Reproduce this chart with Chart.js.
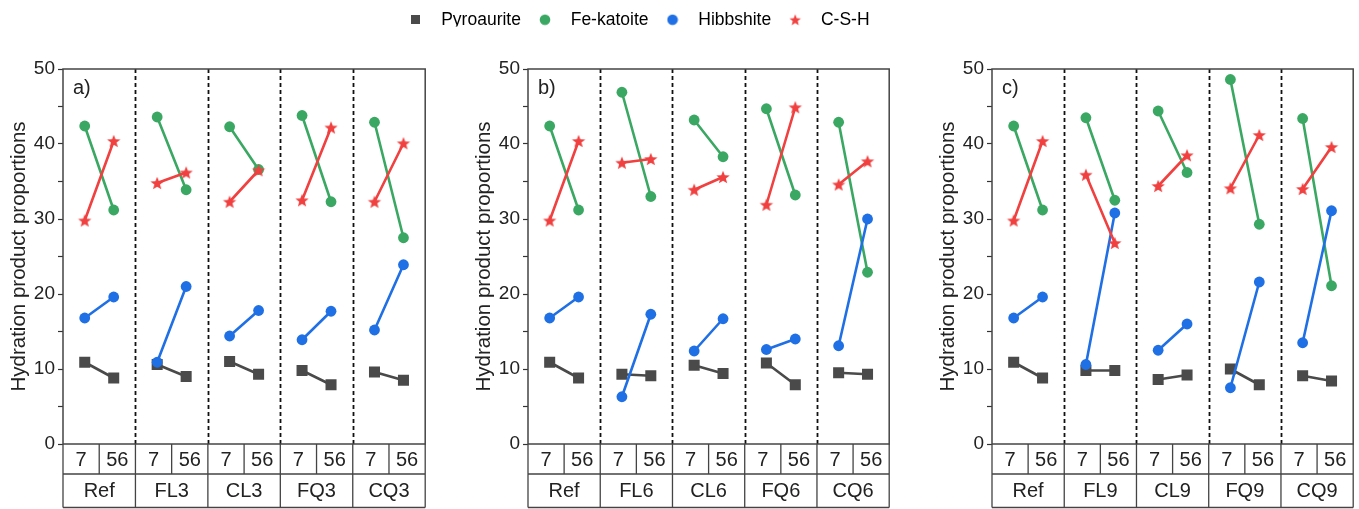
<!DOCTYPE html>
<html>
<head>
<meta charset="utf-8">
<script src="https://cdn.jsdelivr.net/npm/chart.js@4.4.1/dist/chart.umd.min.js"></script>
<style>
  html, body { margin: 0; padding: 0; background: #fff; }
  body { width: 1359px; height: 509px; position: relative; overflow: hidden; }
  canvas { position: absolute; }
</style>
</head>
<body>
<canvas id="legend" width="1268" height="45" style="left:0;top:4px"></canvas>
<canvas id="panelA" width="433" height="469" style="left:0;top:40px"></canvas>
<canvas id="panelB" width="432" height="469" style="left:465px;top:40px"></canvas>
<canvas id="panelC" width="432" height="469" style="left:929px;top:40px"></canvas>
<script>
// Curing ages shown in each group (days)
const ages = ['7', '56'];

// Mix groups per panel
const groupsA = ['Ref', 'FL3', 'CL3', 'FQ3', 'CQ3'];
const groupsB = ['Ref', 'FL6', 'CL6', 'FQ6', 'CQ6'];
const groupsC = ['Ref', 'FL9', 'CL9', 'FQ9', 'CQ9'];

// Phase proportions, pairs of (7 d, 56 d) per group
const pyroaurityA = [10.9, 8.8, 10.6, 9.0, 11.0, 9.3, 9.8, 7.9, 9.6, 8.5];
const feKatoiteA  = [42.4, 31.2, 43.6, 33.9, 42.3, 36.6, 43.8, 32.3, 42.9, 27.5];
const hibbshiteA  = [16.8, 19.6, 10.9, 21.0, 14.4, 17.8, 13.9, 17.7, 15.2, 23.9];
const cshA        = [29.8, 40.4, 34.8, 36.2, 32.3, 36.5, 32.5, 42.2, 32.3, 40.1];

const pyroaurityB = [10.9, 8.8, 9.3, 9.1, 10.5, 9.4, 10.8, 7.9, 9.5, 9.3];
const feKatoiteB  = [42.4, 31.2, 46.9, 33.0, 43.2, 38.3, 44.7, 33.2, 42.9, 22.9];
const hibbshiteB  = [16.8, 19.6, 6.3, 17.3, 12.4, 16.7, 12.6, 14.0, 13.1, 30.0];
const cshB        = [29.8, 40.4, 37.5, 38.0, 33.9, 35.6, 31.9, 44.9, 34.6, 37.7];

const pyroaurityC = [10.9, 8.8, 9.8, 9.8, 8.6, 9.2, 10.0, 7.9, 9.1, 8.4];
const feKatoiteC  = [42.4, 31.2, 43.5, 32.5, 44.4, 36.2, 48.6, 29.3, 43.4, 21.1];
const hibbshiteC  = [16.8, 19.6, 10.6, 30.8, 12.5, 16.0, 7.5, 21.6, 13.5, 31.1];
const cshC        = [29.8, 40.4, 35.9, 26.8, 34.4, 38.5, 34.1, 41.2, 34.0, 39.6];

const seriesNames = ['Pyroaurite', 'Fe-katoite', 'Hibbshite', 'C-S-H'];

const COLORS = { pyro: '#4a4a4a', fe: '#3aa862', hib: '#1f6fe5', csh: '#f0403f' };
const FONT = '"Liberation Sans", Arial, Helvetica, sans-serif';
const TEXT = '#222';

// ---- marker sprites ----
function starSprite(size, outer, inner, color) {
  const c = document.createElement('canvas');
  c.width = size; c.height = size;
  const g = c.getContext('2d');
  const cx = size / 2, cy = size / 2 + outer * 0.09;
  g.beginPath();
  for (let i = 0; i < 10; i++) {
    const r = i % 2 === 0 ? outer : inner;
    const a = -Math.PI / 2 + i * Math.PI / 5;
    const px = cx + r * Math.cos(a), py = cy + r * Math.sin(a);
    i === 0 ? g.moveTo(px, py) : g.lineTo(px, py);
  }
  g.closePath();
  g.fillStyle = color;
  g.fill();
  return c;
}
function squareSprite(side, color) {
  const c = document.createElement('canvas');
  c.width = side; c.height = side;
  const g = c.getContext('2d');
  g.fillStyle = color;
  g.fillRect(0, 0, side, side);
  return c;
}
function dotSprite(size, radius, color) {
  const c = document.createElement('canvas');
  c.width = size; c.height = size;
  const g = c.getContext('2d');
  g.beginPath();
  g.arc(size / 2, size / 2, radius, 0, Math.PI * 2);
  g.fillStyle = color;
  g.fill();
  return c;
}

const starMark = starSprite(16, 7.0, 3.0, COLORS.csh);
const legendMarks = [
  squareSprite(9, COLORS.pyro),
  dotSprite(12, 5.3, COLORS.fe),
  dotSprite(12, 5.3, COLORS.hib),
  starSprite(14, 6.0, 2.6, COLORS.csh)
];

// ---- legend ----
new Chart(document.getElementById('legend'), {
  type: 'line',
  data: {
    datasets: seriesNames.map((name) => ({ label: name, data: [] }))
  },
  options: {
    responsive: false,
    animation: false,
    events: [],
    layout: { padding: 0 },
    scales: { x: { display: false }, y: { display: false } },
    plugins: {
      tooltip: { enabled: false },
      legend: {
        display: true,
        position: 'top',
        align: 'center',
        labels: {
          usePointStyle: true,
          pointStyleWidth: 34,
          padding: 7,
          color: TEXT,
          font: { family: FONT, size: 17.5 },
          generateLabels: (chart) => chart.data.datasets.map((ds, i) => ({
            text: ds.label,
            pointStyle: legendMarks[i],
            fillStyle: 'transparent',
            strokeStyle: 'transparent',
            lineWidth: 0,
            hidden: false,
            datasetIndex: i
          }))
        }
      }
    }
  }
});

// ---- panels ----
const GROUP_OFFSETS = [0.3, 0.7];

function pairedPoints(values) {
  const pts = [];
  for (let g = 0; g < values.length / 2; g++) {
    pts.push({ x: g + GROUP_OFFSETS[0], y: values[2 * g] });
    pts.push({ x: g + GROUP_OFFSETS[1], y: values[2 * g + 1] });
    pts.push({ x: g + GROUP_OFFSETS[1], y: null }); // break line between groups
  }
  return pts;
}

const panelDecor = {
  id: 'panelDecor',
  beforeDatasetsDraw(chart, args, opts) {
    const { ctx, chartArea: a, scales: { x } } = chart;
    ctx.save();
    ctx.strokeStyle = '#111';
    ctx.lineWidth = 1.8;
    ctx.setLineDash([4, 3]);
    for (let g = 1; g < opts.groups.length; g++) {
      const px = Math.round(x.getPixelForValue(g)) + 0.5;
      ctx.beginPath();
      ctx.moveTo(px, a.top);
      ctx.lineTo(px, a.bottom);
      ctx.stroke();
    }
    ctx.restore();
  },
  afterDraw(chart, args, opts) {
    const { ctx, chartArea: a, scales: { x } } = chart;
    const row1 = a.bottom + 30;
    const row2 = a.bottom + 63.5;
    ctx.save();
    // frame
    ctx.strokeStyle = '#444';
    ctx.lineWidth = 1.5;
    ctx.strokeRect(a.left, a.top, a.right - a.left, a.bottom - a.top);
    // category table
    ctx.lineWidth = 1.3;
    ctx.beginPath();
    ctx.moveTo(a.left, row1); ctx.lineTo(a.right, row1);
    ctx.moveTo(a.left, row2); ctx.lineTo(a.right, row2);
    for (let g = 0; g <= opts.groups.length; g++) {
      const px = x.getPixelForValue(g);
      ctx.moveTo(px, a.bottom); ctx.lineTo(px, row2);
    }
    for (let g = 0; g < opts.groups.length; g++) {
      const px = x.getPixelForValue(g + 0.5);
      ctx.moveTo(px, a.bottom); ctx.lineTo(px, row1);
    }
    ctx.stroke();
    ctx.fillStyle = TEXT;
    ctx.font = '20px ' + FONT;
    ctx.textAlign = 'center';
    ctx.textBaseline = 'middle';
    for (let g = 0; g < opts.groups.length; g++) {
      ctx.fillText(ages[0], x.getPixelForValue(g + 0.25), (a.bottom + row1) / 2 + 1);
      ctx.fillText(ages[1], x.getPixelForValue(g + 0.75), (a.bottom + row1) / 2 + 1);
      ctx.fillText(opts.groups[g], x.getPixelForValue(g + 0.5), (row1 + row2) / 2 + 1);
    }
    // panel tag
    ctx.textAlign = 'left';
    ctx.fillText(opts.tag, a.left + 10, a.top + 19);
    ctx.restore();
  }
};

function makePanel(id, tag, groups, pyro, fe, hib, csh) {
  const line = (label, data, color, extra) => Object.assign({
    label,
    data: pairedPoints(data),
    borderColor: color,
    backgroundColor: color,
    borderWidth: 2.6,
    pointBorderWidth: 0,
    spanGaps: false
  }, extra);

  new Chart(document.getElementById(id), {
    type: 'line',
    data: {
      datasets: [
        line(seriesNames[0], pyro, COLORS.pyro, { pointStyle: 'rect', pointRadius: 7.8, order: 4 }),
        line(seriesNames[1], fe, COLORS.fe, { pointStyle: 'circle', pointRadius: 5.4, order: 3 }),
        line(seriesNames[2], hib, COLORS.hib, { pointStyle: 'circle', pointRadius: 5.4, order: 2 }),
        line(seriesNames[3], csh, COLORS.csh, { pointStyle: starMark, pointRadius: 6, order: 1 })
      ]
    },
    options: {
      responsive: false,
      animation: false,
      events: [],
      layout: { padding: { top: 29, bottom: 65, left: 0, right: 2 } },
      scales: {
        x: { type: 'linear', min: 0, max: groups.length, display: false },
        y: {
          type: 'linear',
          min: 0,
          max: 50,
          afterFit: (scale) => { scale.width = 63; },
          border: { display: false },
          grid: { drawOnChartArea: false, drawTicks: true, tickLength: 5, tickColor: '#333', tickWidth: 1.2 },
          ticks: {
            stepSize: 5,
            autoSkip: false,
            padding: 3,
            color: TEXT,
            font: { family: FONT, size: 19 },
            callback: (v) => (v % 10 === 0 ? String(v) : '')
          },
          title: {
            display: true,
            text: 'Hydration product proportions',
            color: TEXT,
            font: { family: FONT, size: 20.5 },
            padding: { top: 7, bottom: 0 }
          }
        }
      },
      plugins: {
        legend: { display: false },
        tooltip: { enabled: false },
        panelDecor: { tag, groups }
      }
    },
    plugins: [panelDecor]
  });
}

makePanel('panelA', 'a)', groupsA, pyroaurityA, feKatoiteA, hibbshiteA, cshA);
makePanel('panelB', 'b)', groupsB, pyroaurityB, feKatoiteB, hibbshiteB, cshB);
makePanel('panelC', 'c)', groupsC, pyroaurityC, feKatoiteC, hibbshiteC, cshC);
</script>
</body>
</html>
